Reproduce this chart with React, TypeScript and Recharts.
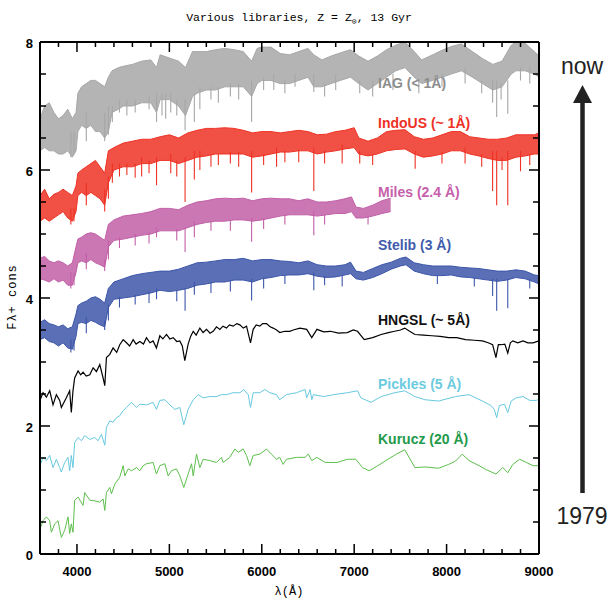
import { ComposedChart, Area, Line, XAxis, YAxis } from 'recharts'

const INK = '#000'
const SANS = '"Liberation Sans", Arial, Helvetica, sans-serif'
const MONO = '"Liberation Mono", "DejaVu Sans Mono", monospace'

// tick positions
const xMajor = [4000, 5000, 6000, 7000, 8000, 9000]
const xMinor = [3800, 4200, 4400, 4600, 4800, 5200, 5400, 5600, 5800, 6200, 6400, 6600, 6800, 7200, 7400, 7600, 7800, 8200, 8400, 8600, 8800]
const yMajor = [0, 2, 4, 6, 8]
const yMinor = [0.5, 1, 1.5, 2.5, 3, 3.5, 4.5, 5, 5.5, 6.5, 7, 7.5]

const X_MIN = 3600
const X_MAX = 9000
const Y_MIN = 0
const Y_MAX = 8

// tick lengths in axis units (plot is ~499 x 512 px)
const X_TICK = { major: 10 / 64, minor: 5 / 64 }
const Y_TICK = { major: 10 / 0.0924, minor: 6 / 0.0924 }

// high-resolution libraries: [lambda, low, high] envelope of the spectrum
const iagBand: [number, number, number][] = [
  [3600, 6.3, 6.8], [3650, 6.35, 7.0], [3700, 6.3, 7.05], [3750, 6.3, 6.9], [3800, 6.25, 6.8],
  [3850, 6.25, 6.85], [3900, 6.3, 6.95], [3950, 6.2, 6.8], [3990, 6.3, 6.9], [4010, 6.6, 7.2],
  [4050, 6.7, 7.3], [4100, 6.65, 7.35], [4150, 6.7, 7.4], [4200, 6.6, 7.4], [4250, 6.6, 7.35],
  [4300, 6.5, 7.3], [4340, 6.6, 7.45], [4380, 6.9, 7.55], [4450, 6.95, 7.6], [4500, 7.0, 7.62],
  [4600, 7.0, 7.65], [4700, 7.05, 7.7], [4800, 7.05, 7.72], [4861, 6.9, 7.6], [4900, 7.1, 7.8],
  [5000, 7.1, 7.75], [5100, 7.0, 7.7], [5175, 6.85, 7.6], [5250, 7.15, 7.85], [5300, 7.2, 7.85],
  [5400, 7.25, 7.85], [5500, 7.25, 7.88], [5600, 7.3, 7.9], [5700, 7.3, 7.88], [5800, 7.3, 7.85],
  [5890, 7.15, 7.7], [5950, 7.35, 7.9], [6000, 7.4, 7.92], [6100, 7.4, 7.92], [6200, 7.35, 7.82],
  [6300, 7.35, 7.8], [6400, 7.4, 7.85], [6500, 7.45, 7.9], [6563, 7.3, 7.8], [6650, 7.3, 7.72],
  [6750, 7.35, 7.78], [6850, 7.4, 7.83], [6960, 7.45, 7.88], [7050, 7.35, 7.78], [7150, 7.25, 7.7],
  [7250, 7.35, 7.78], [7350, 7.45, 7.88], [7450, 7.55, 7.95], [7550, 7.6, 8.0], [7650, 7.45, 7.85],
  [7730, 7.35, 7.72], [7850, 7.4, 7.8], [7950, 7.45, 7.87], [8050, 7.5, 7.93], [8160, 7.55, 7.97],
  [8280, 7.45, 7.85], [8390, 7.35, 7.74], [8500, 7.25, 7.65], [8600, 7.3, 7.7], [8700, 7.5, 7.95],
  [8750, 7.55, 8.0], [8850, 7.55, 7.98], [8950, 7.5, 7.85], [9000, 7.45, 7.78],
]
// absorption features hanging below the envelope: [lambda, from, to]
const iagLines: [number, number, number][] = [
  [3934, 6.6, 6.2], [3968, 6.6, 6.25], [4101, 6.9, 6.45], [4300, 6.9, 6.45], [4340, 7.0, 6.55],
  [4383, 7.0, 6.75], [4460, 7.1, 6.9], [4540, 7.1, 6.85], [4630, 7.1, 6.9], [4780, 7.15, 6.95],
  [4861, 7.2, 6.75], [4920, 7.2, 6.85], [4960, 7.2, 6.8], [5015, 7.2, 6.9], [5080, 7.1, 6.85],
  [5170, 7.1, 6.62], [5270, 7.2, 6.75], [5330, 7.3, 6.95], [5450, 7.3, 7.1], [5530, 7.3, 7.05],
  [5660, 7.35, 7.15], [5750, 7.35, 7.1], [5890, 7.4, 6.75], [6020, 7.45, 7.25], [6130, 7.5, 7.25],
  [6250, 7.4, 7.2], [6360, 7.5, 7.3], [6563, 7.5, 7.22], [6680, 7.35, 7.15], [6800, 7.5, 7.25],
  [7060, 7.4, 7.2], [7200, 7.4, 7.15], [7420, 7.5, 7.25], [7700, 7.4, 7.2], [7950, 7.5, 7.3],
  [8200, 7.6, 7.35], [8380, 7.4, 7.2], [8498, 7.4, 7.05], [8542, 7.4, 6.83], [8590, 7.35, 7.1],
  [8662, 7.4, 6.88], [8800, 7.6, 7.4], [8900, 7.6, 7.35],
]

const indoBand: [number, number, number][] = [
  [3600, 5.2, 5.6], [3650, 5.25, 5.7], [3700, 5.2, 5.55], [3750, 5.25, 5.62], [3800, 5.3, 5.65],
  [3850, 5.35, 5.7], [3900, 5.25, 5.65], [3950, 5.2, 5.6], [3990, 5.35, 5.75], [4010, 5.6, 5.95],
  [4050, 5.65, 6.0], [4100, 5.6, 6.05], [4150, 5.65, 6.1], [4200, 5.6, 6.15], [4250, 5.55, 6.05],
  [4300, 5.45, 5.95], [4340, 5.8, 6.3], [4400, 6.0, 6.35], [4500, 6.05, 6.42], [4600, 6.05, 6.45],
  [4700, 6.1, 6.48], [4800, 6.1, 6.48], [4900, 6.15, 6.52], [5000, 6.15, 6.55], [5100, 6.1, 6.5],
  [5200, 6.15, 6.58], [5300, 6.2, 6.62], [5400, 6.22, 6.65], [5500, 6.25, 6.65], [5600, 6.25, 6.66],
  [5700, 6.25, 6.65], [5800, 6.25, 6.62], [5900, 6.2, 6.58], [6000, 6.22, 6.6], [6100, 6.25, 6.6],
  [6200, 6.28, 6.58], [6300, 6.28, 6.6], [6400, 6.3, 6.62], [6500, 6.3, 6.6], [6600, 6.25, 6.55],
  [6700, 6.28, 6.56], [6800, 6.3, 6.6], [6900, 6.33, 6.62], [7000, 6.35, 6.66], [7050, 6.25, 6.5],
  [7150, 6.22, 6.45], [7250, 6.25, 6.5], [7350, 6.3, 6.6], [7450, 6.32, 6.62], [7550, 6.33, 6.63],
  [7650, 6.25, 6.52], [7750, 6.2, 6.48], [7850, 6.22, 6.5], [7950, 6.25, 6.55], [8050, 6.3, 6.6],
  [8150, 6.3, 6.6], [8250, 6.25, 6.52], [8350, 6.22, 6.5], [8450, 6.18, 6.48], [8550, 6.15, 6.48],
  [8650, 6.15, 6.5], [8750, 6.2, 6.55], [8850, 6.22, 6.55], [8950, 6.25, 6.55], [9000, 6.25, 6.58],
]
const indoLines: [number, number, number][] = [
  [3934, 5.4, 5.15], [3968, 5.4, 5.2], [4101, 5.8, 5.45], [4300, 5.7, 5.35], [4340, 5.9, 5.55],
  [4383, 6.1, 5.8], [4460, 6.1, 5.9], [4540, 6.1, 5.92], [4630, 6.1, 5.88], [4700, 6.2, 5.9],
  [4780, 6.15, 5.95], [4861, 6.2, 5.76], [5015, 6.25, 5.95], [5080, 6.15, 5.9], [5170, 6.2, 5.5],
  [5270, 6.3, 5.85], [5330, 6.3, 6.0], [5450, 6.25, 6.05], [5530, 6.25, 6.08], [5660, 6.28, 6.1],
  [5750, 6.28, 6.05], [5890, 6.3, 5.65], [6020, 6.25, 6.08], [6160, 6.35, 6.05], [6250, 6.3, 6.12],
  [6400, 6.32, 6.12], [6563, 6.35, 5.67], [6680, 6.3, 6.1], [6870, 6.4, 6.1], [7060, 6.3, 6.1],
  [7200, 6.25, 6.08], [7660, 6.3, 6.02], [7950, 6.28, 6.1], [8200, 6.35, 6.1], [8380, 6.25, 6.05],
  [8498, 6.3, 5.67], [8542, 6.3, 5.45], [8600, 6.2, 6.0], [8662, 6.3, 5.45], [8800, 6.3, 5.98],
  [8900, 6.25, 6.08],
]

const milesBand: [number, number, number][] = [
  [3600, 4.3, 4.62], [3650, 4.28, 4.65], [3700, 4.25, 4.58], [3750, 4.3, 4.55], [3800, 4.25, 4.58],
  [3850, 4.28, 4.55], [3900, 4.2, 4.5], [3950, 4.2, 4.55], [3990, 4.4, 4.8], [4010, 4.55, 4.92],
  [4050, 4.58, 4.95], [4100, 4.55, 5.0], [4150, 4.6, 5.02], [4200, 4.55, 5.0], [4250, 4.52, 4.95],
  [4300, 4.48, 4.9], [4340, 4.8, 5.15], [4400, 4.9, 5.22], [4500, 4.92, 5.28], [4600, 4.95, 5.3],
  [4700, 4.98, 5.32], [4800, 5.0, 5.35], [4900, 5.05, 5.4], [5000, 5.05, 5.4], [5100, 5.05, 5.38],
  [5200, 5.1, 5.45], [5300, 5.15, 5.5], [5400, 5.18, 5.52], [5500, 5.2, 5.55], [5600, 5.2, 5.56],
  [5700, 5.22, 5.55], [5800, 5.22, 5.56], [5900, 5.2, 5.52], [6000, 5.22, 5.55], [6100, 5.25, 5.56],
  [6200, 5.28, 5.55], [6300, 5.3, 5.55], [6400, 5.3, 5.52], [6500, 5.3, 5.55], [6600, 5.28, 5.5],
  [6700, 5.3, 5.5], [6800, 5.32, 5.52], [6900, 5.32, 5.55], [6970, 5.35, 5.58], [7020, 5.25, 5.42],
  [7100, 5.25, 5.4], [7200, 5.28, 5.45], [7300, 5.32, 5.52], [7395, 5.35, 5.56],
]
const milesLines: [number, number, number][] = [
  [3934, 4.4, 4.15], [3968, 4.4, 4.2], [4101, 4.7, 4.45], [4300, 4.6, 4.42], [4340, 4.9, 4.6],
  [4460, 4.95, 4.78], [4630, 5.0, 4.82], [4780, 5.02, 4.85], [4861, 5.1, 4.95], [5080, 5.08, 4.9],
  [5170, 5.1, 4.72], [5270, 5.2, 4.95], [5450, 5.2, 5.05], [5660, 5.22, 5.05], [5890, 5.25, 4.88],
  [6020, 5.25, 5.08], [6250, 5.3, 5.15], [6563, 5.35, 4.98], [6680, 5.3, 5.15], [7150, 5.28, 5.15],
]

const stelibBand: [number, number, number][] = [
  [3600, 3.35, 3.62], [3650, 3.38, 3.66], [3700, 3.32, 3.6], [3750, 3.3, 3.58], [3800, 3.25, 3.55],
  [3850, 3.3, 3.58], [3900, 3.22, 3.52], [3950, 3.2, 3.55], [3990, 3.4, 3.75], [4010, 3.6, 3.88],
  [4050, 3.62, 3.92], [4100, 3.6, 3.95], [4150, 3.65, 4.0], [4200, 3.62, 4.02], [4250, 3.58, 3.98],
  [4300, 3.55, 3.92], [4340, 3.85, 4.15], [4400, 3.98, 4.25], [4500, 4.0, 4.3], [4600, 4.02, 4.35],
  [4700, 4.05, 4.38], [4800, 4.08, 4.4], [4900, 4.12, 4.42], [5000, 4.1, 4.42], [5100, 4.12, 4.45],
  [5200, 4.15, 4.5], [5300, 4.2, 4.55], [5400, 4.22, 4.56], [5500, 4.25, 4.58], [5600, 4.25, 4.6],
  [5700, 4.28, 4.6], [5800, 4.28, 4.62], [5900, 4.25, 4.58], [6000, 4.3, 4.6], [6100, 4.32, 4.6],
  [6200, 4.35, 4.58], [6300, 4.36, 4.57], [6400, 4.36, 4.55], [6500, 4.38, 4.58], [6600, 4.34, 4.52],
  [6700, 4.32, 4.5], [6800, 4.33, 4.5], [6900, 4.36, 4.52], [6960, 4.38, 4.56], [7020, 4.3, 4.42],
  [7100, 4.28, 4.4], [7200, 4.32, 4.46], [7300, 4.38, 4.52], [7400, 4.45, 4.56], [7500, 4.5, 4.62],
  [7560, 4.52, 4.64], [7650, 4.42, 4.55], [7750, 4.38, 4.52], [7850, 4.35, 4.5], [7950, 4.35, 4.5],
  [8050, 4.36, 4.5], [8150, 4.33, 4.48], [8250, 4.32, 4.47], [8350, 4.3, 4.46], [8450, 4.28, 4.44],
  [8550, 4.26, 4.42], [8650, 4.28, 4.42], [8750, 4.32, 4.44], [8850, 4.3, 4.42], [8950, 4.25, 4.36],
  [9000, 4.22, 4.35],
]
const stelibLines: [number, number, number][] = [
  [3934, 3.35, 3.15], [3968, 3.35, 3.18], [4101, 3.7, 3.45], [4300, 3.65, 3.5], [4340, 3.9, 3.65],
  [4460, 4.02, 3.85], [4630, 4.05, 3.9], [4780, 4.1, 3.92], [4861, 4.15, 3.98], [5080, 4.12, 3.95],
  [5170, 4.15, 3.8], [5270, 4.25, 4.05], [5450, 4.25, 4.08], [5660, 4.28, 4.1], [5890, 4.3, 3.96],
  [6020, 4.32, 4.15], [6250, 4.36, 4.22], [6563, 4.4, 4.12], [6680, 4.34, 4.2], [6870, 4.35, 4.18],
  [7900, 4.36, 4.22], [8300, 4.32, 4.18], [8498, 4.3, 4.03], [8542, 4.3, 3.8], [8662, 4.3, 3.84],
  [8900, 4.3, 4.15],
]

// lower-resolution libraries: [lambda, flux]
const hngsl: [number, number][] = [
  [3600, 2.4], [3633, 2.52], [3669, 2.45], [3705, 2.55], [3741, 2.33], [3777, 2.49], [3813, 2.4],
  [3831, 2.29], [3885, 2.44], [3921, 2.55], [3939, 2.21], [3957, 2.55], [3975, 2.75], [4012, 2.86],
  [4040, 2.8], [4066, 2.84], [4100, 2.78], [4139, 2.8], [4175, 2.91], [4211, 2.85], [4247, 2.96],
  [4283, 2.75], [4301, 2.63], [4319, 3.07], [4355, 3.12], [4391, 3.22], [4430, 3.15], [4463, 3.27],
  [4500, 3.35], [4536, 3.3], [4570, 3.25], [4608, 3.35], [4640, 3.28], [4680, 3.32], [4720, 3.28],
  [4752, 3.38], [4790, 3.3], [4824, 3.33], [4860, 3.22], [4897, 3.41], [4930, 3.36], [4969, 3.43],
  [5005, 3.36], [5041, 3.38], [5080, 3.32], [5113, 3.33], [5140, 3.25], [5167, 3.02], [5203, 3.28],
  [5230, 3.4], [5258, 3.48], [5290, 3.42], [5330, 3.53], [5365, 3.46], [5402, 3.51], [5440, 3.45],
  [5474, 3.48], [5510, 3.55], [5546, 3.51], [5580, 3.56], [5618, 3.53], [5650, 3.58], [5690, 3.56],
  [5730, 3.6], [5763, 3.58], [5800, 3.53], [5835, 3.56], [5878, 3.3], [5907, 3.51], [5940, 3.58],
  [5979, 3.56], [6010, 3.6], [6051, 3.6], [6090, 3.55], [6123, 3.53], [6160, 3.5], [6195, 3.46],
  [6249, 3.48], [6303, 3.48], [6340, 3.5], [6413, 3.53], [6486, 3.51], [6541, 3.38], [6597, 3.51],
  [6670, 3.47], [6743, 3.48], [6830, 3.45], [6926, 3.46], [6990, 3.5], [7036, 3.48], [7109, 3.35],
  [7200, 3.38], [7292, 3.43], [7370, 3.46], [7438, 3.48], [7500, 3.5], [7547, 3.53], [7600, 3.48],
  [7657, 3.43], [7750, 3.42], [7840, 3.41], [7930, 3.4], [8023, 3.38], [8110, 3.38], [8205, 3.35],
  [8300, 3.34], [8388, 3.33], [8450, 3.3], [8498, 3.27], [8534, 3.07], [8560, 3.27], [8589, 3.27],
  [8630, 3.28], [8662, 3.14], [8690, 3.3], [8717, 3.33], [8770, 3.3], [8827, 3.33], [8880, 3.3],
  [8936, 3.3], [9000, 3.33],
]

const pickles: [number, number][] = [
  [3600, 1.38], [3633, 1.51], [3669, 1.46], [3705, 1.54], [3741, 1.35], [3777, 1.48], [3813, 1.35],
  [3831, 1.28], [3867, 1.43], [3903, 1.51], [3921, 1.3], [3939, 1.54], [3957, 1.35], [3975, 1.74],
  [4012, 1.82], [4048, 1.77], [4084, 1.85], [4139, 1.79], [4193, 1.82], [4229, 1.77], [4265, 1.87],
  [4301, 1.7], [4319, 1.98], [4355, 2.08], [4391, 2.06], [4427, 2.13], [4463, 2.16], [4500, 2.24],
  [4536, 2.29], [4590, 2.37], [4644, 2.29], [4680, 2.34], [4752, 2.33], [4824, 2.37], [4860, 2.26],
  [4897, 2.4], [4951, 2.41], [5005, 2.33], [5059, 2.26], [5113, 2.29], [5156, 2.02], [5203, 2.26],
  [5258, 2.41], [5312, 2.49], [5366, 2.44], [5438, 2.46], [5510, 2.46], [5564, 2.49], [5618, 2.49],
  [5690, 2.52], [5763, 2.52], [5806, 2.57], [5853, 2.49], [5878, 2.29], [5907, 2.52], [5979, 2.52],
  [6033, 2.57], [6087, 2.52], [6159, 2.49], [6194, 2.41], [6267, 2.49], [6376, 2.52], [6468, 2.57],
  [6486, 2.44], [6523, 2.57], [6541, 2.41], [6559, 2.49], [6669, 2.46], [6779, 2.49], [6926, 2.52],
  [7036, 2.55], [7072, 2.44], [7182, 2.37], [7292, 2.46], [7438, 2.52], [7547, 2.55], [7657, 2.46],
  [7767, 2.41], [7913, 2.39], [8096, 2.46], [8242, 2.49], [8388, 2.39], [8480, 2.32], [8516, 2.26],
  [8542, 2.13], [8571, 2.32], [8626, 2.34], [8662, 2.21], [8699, 2.39], [8753, 2.44], [8827, 2.46],
  [8900, 2.4], [8973, 2.4], [9000, 2.42],
]

const kurucz: [number, number][] = [
  [3600, 0.39], [3633, 0.52], [3669, 0.58], [3705, 0.52], [3723, 0.34], [3759, 0.47], [3795, 0.52],
  [3831, 0.26], [3867, 0.37], [3903, 0.58], [3921, 0.32], [3939, 0.47], [3957, 0.34], [3975, 0.84],
  [4012, 0.89], [4066, 0.76], [4084, 0.96], [4139, 0.84], [4193, 0.83], [4247, 0.81], [4283, 0.86],
  [4301, 0.68], [4319, 0.96], [4355, 1.04], [4373, 0.94], [4409, 1.09], [4463, 1.2], [4500, 1.38],
  [4518, 1.22], [4554, 1.33], [4590, 1.3], [4644, 1.35], [4680, 1.3], [4716, 1.38], [4752, 1.41],
  [4824, 1.43], [4860, 1.25], [4897, 1.38], [4951, 1.41], [4987, 1.22], [5023, 1.3], [5077, 1.33],
  [5113, 1.22], [5156, 1.04], [5203, 1.25], [5240, 1.41], [5258, 1.22], [5294, 1.56], [5330, 1.35],
  [5366, 1.48], [5438, 1.46], [5510, 1.43], [5564, 1.51], [5582, 1.43], [5654, 1.51], [5708, 1.64],
  [5745, 1.59], [5799, 1.64], [5835, 1.54], [5871, 1.38], [5907, 1.54], [5979, 1.56], [6051, 1.64],
  [6105, 1.56], [6159, 1.48], [6195, 1.51], [6231, 1.4], [6267, 1.48], [6376, 1.51], [6468, 1.51],
  [6504, 1.56], [6541, 1.46], [6596, 1.51], [6687, 1.43], [6815, 1.43], [6926, 1.48], [7018, 1.48],
  [7090, 1.35], [7163, 1.3], [7255, 1.38], [7365, 1.48], [7456, 1.56], [7547, 1.63], [7657, 1.35],
  [7767, 1.36], [7913, 1.34], [8023, 1.4], [8096, 1.45], [8169, 1.56], [8242, 1.46], [8352, 1.38],
  [8425, 1.32], [8534, 1.25], [8608, 1.35], [8662, 1.27], [8717, 1.4], [8790, 1.48], [8863, 1.43],
  [8936, 1.38], [9000, 1.38],
]

const toBand = (rows: [number, number, number][]) => rows.map(([w, lo, hi]) => ({ w, band: [lo, hi] }))
const toSpikes = (rows: [number, number, number][]) =>
  rows.flatMap(([w, a, b]) => [{ w, v: a }, { w, v: b }, { w, v: null }])
const toLine = (rows: [number, number][]) => rows.map(([w, v]) => ({ w, v }))

const bands = [
  { name: 'IAG', color: '#a7a7a7', band: iagBand, lines: iagLines },
  { name: 'IndoUS', color: '#ee3224', band: indoBand, lines: indoLines },
  { name: 'Miles', color: '#c25fa7', band: milesBand, lines: milesLines },
  { name: 'Stelib', color: '#3d56a9', band: stelibBand, lines: stelibLines },
]

const curves = [
  { name: 'HNGSL', color: '#000000', rows: hngsl, width: 1.2 },
  { name: 'Pickles', color: '#67c9df', rows: pickles, width: 1 },
  { name: 'Kurucz', color: '#5dbf4c', rows: kurucz, width: 1 },
]

const labels = [
  { text: 'IAG (< 1Å)', color: '#8d8d8d', top: 83 },
  { text: 'IndoUS (~ 1Å)', color: '#ee3124', top: 123 },
  { text: 'Miles (2.4 Å)', color: '#c660aa', top: 192 },
  { text: 'Stelib (3 Å)', color: '#3f5bab', top: 245 },
  { text: 'HNGSL (~ 5Å)', color: '#111111', top: 320 },
  { text: 'Pickles (5 Å)', color: '#6dcbe0', top: 384 },
  { text: 'Kurucz (20 Å)', color: '#1f9a4b', top: 439 },
]

const frame = { stroke: INK, strokeWidth: 2 }

// inward tick marks on the four sides, as broken segments of one polyline
const xTickSegs = [...xMajor.map(v => [v, X_TICK.major]), ...xMinor.map(v => [v, X_TICK.minor])].flatMap(([v, len]) => [
  { w: v, v: Y_MIN }, { w: v, v: Y_MIN + len }, { w: v, v: null },
  { w: v, v: Y_MAX }, { w: v, v: Y_MAX - len }, { w: v, v: null },
])
const yTickSegs = [...yMajor.map(v => [v, Y_TICK.major]), ...yMinor.map(v => [v, Y_TICK.minor])].flatMap(([v, len]) => [
  { w: X_MIN, v }, { w: X_MIN + len, v }, { w: X_MIN, v: null },
  { w: X_MAX, v }, { w: X_MAX - len, v }, { w: X_MAX, v: null },
])

function XLabel({ x, y, payload }: any) {
  return (
    <text x={x} y={y + 17} textAnchor="middle" dominantBaseline="central"
      fontFamily={SANS} fontSize={13} fontWeight="bold" fill={INK}>
      {payload.value}
    </text>
  )
}

function YLabel({ x, y, payload }: any) {
  return (
    <text x={x - 7} y={y + 1} textAnchor="end" dominantBaseline="central"
      fontFamily={SANS} fontSize={13} fontWeight="bold" fill={INK}>
      {payload.value}
    </text>
  )
}

const NoLabel = () => null

export default function App() {
  return (
    <div style={{ position: 'absolute', left: 0, top: 0, width: 610, height: 600, background: '#fff', overflow: 'hidden' }}>
      <ComposedChart width={610} height={600} margin={{ top: 41, right: 70, bottom: 45, left: 39 }}>
        <XAxis dataKey="w" type="number" domain={[X_MIN, X_MAX]} ticks={xMajor} allowDataOverflow interval={0}
          height={1} tickSize={0} tickMargin={0} tickLine={false} axisLine={frame} tick={<XLabel />} />
        <XAxis xAxisId="top" orientation="top" dataKey="w" type="number" domain={[X_MIN, X_MAX]} ticks={xMajor}
          interval={0} height={1} tickSize={0} tickLine={false} axisLine={frame} tick={<NoLabel />} />
        <YAxis type="number" domain={[Y_MIN, Y_MAX]} ticks={yMajor} allowDataOverflow interval={0}
          width={1} tickSize={0} tickMargin={0} tickLine={false} axisLine={frame} tick={<YLabel />} />
        <YAxis yAxisId="right" orientation="right" type="number" domain={[Y_MIN, Y_MAX]} ticks={yMajor}
          interval={0} width={1} tickSize={0} tickLine={false} axisLine={frame} tick={<NoLabel />} />

        {curves.map(c => (
          <Line key={c.name} data={toLine(c.rows)} dataKey="v" type="linear" stroke={c.color}
            strokeWidth={c.width} dot={false} activeDot={false} isAnimationActive={false} />
        ))}
        {bands.map(b => (
          <Area key={b.name} data={toBand(b.band)} dataKey="band" type="linear" stroke={b.color}
            strokeWidth={1} fill={b.color} fillOpacity={0.85} dot={false} activeDot={false}
            isAnimationActive={false} />
        ))}
        {bands.map(b => (
          <Line key={b.name + '-lines'} data={toSpikes(b.lines)} dataKey="v" type="linear" stroke={b.color}
            strokeWidth={1.1} dot={false} activeDot={false} connectNulls={false} isAnimationActive={false} />
        ))}

        <Line data={xTickSegs} dataKey="v" type="linear" stroke={INK} strokeWidth={1.5} dot={false}
          activeDot={false} connectNulls={false} isAnimationActive={false} />
        <Line data={yTickSegs} dataKey="v" type="linear" stroke={INK} strokeWidth={1.5} dot={false}
          activeDot={false} connectNulls={false} isAnimationActive={false} />
      </ComposedChart>

      {/* library labels */}
      {labels.map(l => (
        <div key={l.text} style={{
          position: 'absolute', left: 378, top: l.top, transform: 'translateY(-50%)',
          fontFamily: SANS, fontSize: 14, fontWeight: 'bold', color: l.color, whiteSpace: 'nowrap', lineHeight: 1,
        }}>
          {l.text}
        </div>
      ))}

      {/* title and axis titles */}
      <div style={{ position: 'absolute', left: 0, width: 598, top: 19, transform: 'translateY(-50%)', textAlign: 'center', fontFamily: MONO, fontSize: 11.5, color: INK, whiteSpace: 'nowrap', lineHeight: 1 }}>
        Various libraries, Z = Z<sub style={{ fontSize: 8 }}>⊙</sub>, 13 Gyr
      </div>
      <div style={{ position: 'absolute', left: 289, top: 592, transform: 'translate(-50%, -50%)', fontFamily: MONO, fontSize: 12, color: INK, whiteSpace: 'nowrap', lineHeight: 1 }}>
        λ(Å)
      </div>
      <div style={{ position: 'absolute', left: 13, top: 297, transform: 'translate(-50%, -50%) rotate(-90deg)', fontFamily: MONO, fontSize: 12, letterSpacing: 1, color: INK, whiteSpace: 'nowrap', lineHeight: 1 }}>
        Fλ+ cons
      </div>

      {/* time arrow */}
      <div style={{ position: 'absolute', left: 582, top: 66, transform: 'translate(-50%, -50%)', fontFamily: SANS, fontSize: 23, color: '#222', lineHeight: 1 }}>
        now
      </div>
      <svg style={{ position: 'absolute', left: 560, top: 80 }} width={45} height={420}>
        <line x1={22.5} x2={22.5} y1={20} y2={413} stroke="#222" strokeWidth={4.5} />
        <polygon points="22.5,5 13,23 32,23" fill="#222" />
      </svg>
      <div style={{ position: 'absolute', left: 582, top: 516, transform: 'translate(-50%, -50%)', fontFamily: SANS, fontSize: 23, color: '#222', lineHeight: 1 }}>
        1979
      </div>
    </div>
  )
}
